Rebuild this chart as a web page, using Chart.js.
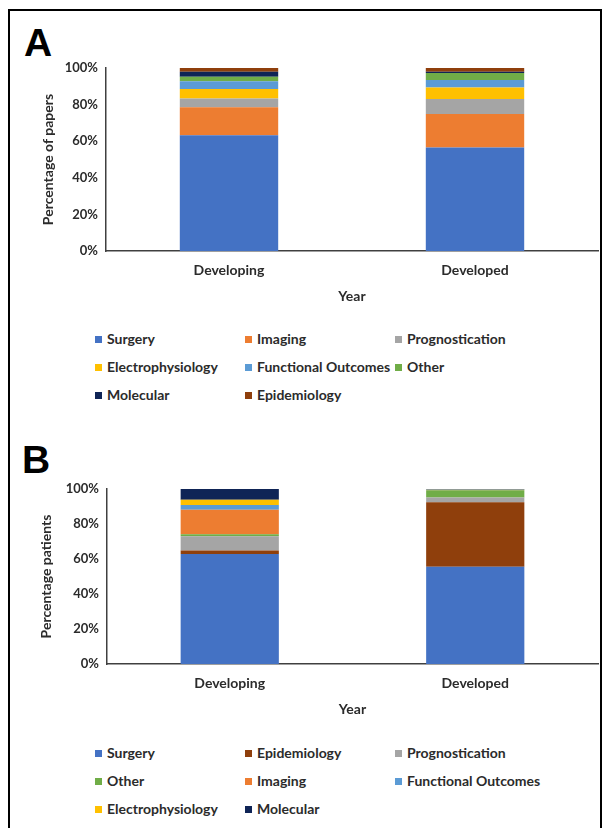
<!DOCTYPE html>
<html>
<head>
<meta charset="utf-8">
<script src="https://cdn.jsdelivr.net/npm/chart.js@4.4.0/dist/chart.umd.min.js"></script>
<style>
  body { margin: 0; width: 610px; height: 828px; background: #fff; overflow: hidden; position: relative; font-family: Lato, sans-serif; }
  .frame { position: absolute; left: 8px; top: 9px; width: 594px; height: 840px; border: 2px solid #000; box-sizing: border-box; }
  .panel { position: absolute; font: bold 39px "Liberation Sans", Arial, sans-serif; line-height: 1; color: #000; }
  canvas { position: absolute; left: 0; }
  .lg { position: absolute; font: bold 14px Lato, sans-serif; color: #2b2b2b; white-space: nowrap; line-height: 16px; }
  .lg i { position: absolute; left: 0; top: 5px; width: 7px; height: 7px; }
  .lg span { position: absolute; left: 12px; top: 0; }
</style>
</head>
<body>
<div class="frame"></div>
<div class="panel" style="left:24px; top:23px;">A</div>
<div class="panel" style="left:22px; top:440px;">B</div>
<canvas id="chartA" width="610" height="312" style="top:0px;"></canvas>
<canvas id="chartB" width="610" height="305" style="top:420px;"></canvas>
<div id="legendA"></div>
<div id="legendB"></div>
<script>
const categories = ['Developing', 'Developed'];
const yTicks = [0, 20, 40, 60, 80, 100];

// A - percentage of papers (stack order bottom -> top)
const namesA = ['Surgery', 'Imaging', 'Prognostication', 'Electrophysiology', 'Functional Outcomes', 'Other', 'Molecular', 'Epidemiology'];
const surgeryA = [63.3, 56.6];
const imagingA = [15.2, 18.2];
const prognosticationA = [4.9, 8.2];
const electrophysiologyA = [5.1, 6.4];
const functionalA = [4.2, 4.0];
const otherA = [2.5, 3.9];
const molecularA = [2.8, 0.7];
const epidemiologyA = [2.0, 2.0];

// B - percentage patients
const namesB = ['Surgery', 'Epidemiology', 'Prognostication', 'Other', 'Imaging', 'Functional Outcomes', 'Electrophysiology', 'Molecular'];
const surgeryB = [62.9, 55.6];
const epidemiologyB = [1.9, 36.8];
const prognosticationB = [8.2, 2.8];
const otherB = [1.1, 4.1];
const imagingB = [14.1, 0.2];
const functionalB = [2.7, 0.1];
const electrophysiologyB = [3.0, 0.1];
const molecularB = [6.1, 0.3];

const colors = {
  'Surgery': '#4472c4',
  'Imaging': '#ed7d31',
  'Prognostication': '#a5a5a5',
  'Electrophysiology': '#ffc000',
  'Functional Outcomes': '#5b9bd5',
  'Other': '#70ad47',
  'Molecular': '#0f2456',
  'Epidemiology': '#8f3f0c'
};

Chart.defaults.font.family = 'Lato, sans-serif';
Chart.defaults.font.weight = 'bold';
Chart.defaults.color = '#2b2b2b';

function makeChart(id, names, values, yTitle, g) {
  new Chart(document.getElementById(id), {
    type: 'bar',
    data: {
      labels: categories,
      datasets: names.map((n, i) => ({
        label: n,
        data: values[i],
        backgroundColor: colors[n],
        borderWidth: 0,
        categoryPercentage: 0.4,
        barPercentage: 1
      }))
    },
    options: {
      responsive: false,
      animation: false,
      layout: { padding: { left: 0, right: 12, top: g.top, bottom: 0 } },
      plugins: { legend: { display: false }, tooltip: { enabled: false } },
      scales: {
        x: {
          stacked: true,
          grid: { display: false, drawTicks: false },
          border: { display: true, color: '#404040', width: 1.5 },
          ticks: { padding: 11, font: { size: 14, weight: 'bold' } },
          title: { display: true, text: 'Year', font: { size: 14, weight: 'bold' }, padding: { top: 0, bottom: 7 } },
          afterFit: s => { s.height = g.xh; }
        },
        y: {
          stacked: true,
          min: 0, max: 100,
          afterBuildTicks: s => { s.ticks = yTicks.map(v => ({ value: v })); },
          grid: { display: false, drawTicks: false },
          border: { display: true, color: '#404040', width: 1.5 },
          ticks: { padding: 8, font: { size: 13, weight: 'bold' }, callback: v => v + '%' },
          title: { display: true, text: yTitle, font: { size: 14, weight: 'bold' }, padding: { top: g.tp, bottom: 0 } },
          afterFit: s => { s.width = g.yw; }
        }
      }
    }
  });
}

function makeLegend(id, names, top) {
  const box = document.getElementById(id);
  const colX = [95, 245, 395];
  names.forEach((n, i) => {
    const d = document.createElement('div');
    d.className = 'lg';
    d.style.left = colX[i % 3] + 'px';
    d.style.top = (top + Math.floor(i / 3) * 28) + 'px';
    d.innerHTML = `<i style="background:${colors[n]}"></i><span>${n}</span>`;
    box.appendChild(d);
  });
}

makeChart('chartA', namesA,
  [surgeryA, imagingA, prognosticationA, electrophysiologyA, functionalA, otherA, molecularA, epidemiologyA],
  'Percentage of papers', { top: 68, xh: 61, yw: 106, tp: 40 });
makeChart('chartB', namesB,
  [surgeryB, epidemiologyB, prognosticationB, otherB, imagingB, functionalB, electrophysiologyB, molecularB],
  'Percentage patients', { top: 69, xh: 61, yw: 107, tp: 38 });

makeLegend('legendA', namesA, 331);
makeLegend('legendB', namesB, 745);
</script>
</body>
</html>
